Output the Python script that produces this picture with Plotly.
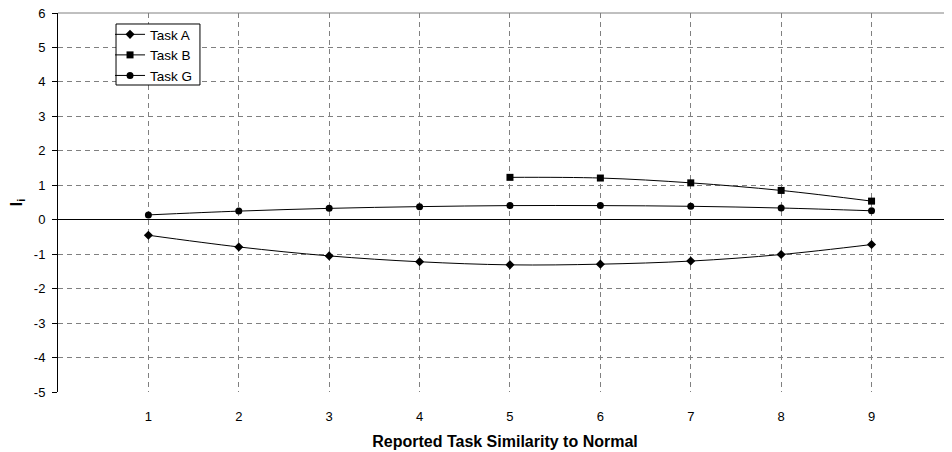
import plotly.graph_objects as go

x_all = [1, 2, 3, 4, 5, 6, 7, 8, 9]
task_a = [-0.45, -0.79, -1.05, -1.22, -1.31, -1.29, -1.20, -1.01, -0.72]
x_b = [5, 6, 7, 8, 9]
task_b = [1.23, 1.21, 1.07, 0.85, 0.54]
task_g = [0.14, 0.25, 0.33, 0.38, 0.41, 0.41, 0.39, 0.34, 0.26]
x_ticks = [1, 2, 3, 4, 5, 6, 7, 8, 9]
y_ticks = [-5, -4, -3, -2, -1, 0, 1, 2, 3, 4, 5, 6]

fig = go.Figure()
line = dict(color="black", width=1, shape="spline")
fig.add_trace(go.Scatter(x=x_all, y=task_a, name="Task A", mode="lines+markers",
                         line=line, marker=dict(symbol="diamond", size=7, color="black")))
fig.add_trace(go.Scatter(x=x_b, y=task_b, name="Task B", mode="lines+markers",
                         line=line, marker=dict(symbol="square", size=7, color="black")))
fig.add_trace(go.Scatter(x=x_all, y=task_g, name="Task G", mode="lines+markers",
                         line=line, marker=dict(symbol="circle", size=7, color="black")))

grid = dict(showgrid=True, gridcolor="#808080", gridwidth=1, griddash="5px,4px")
fig.update_layout(
    width=944, height=444,
    margin=dict(l=50, r=0, t=5, b=60),
    paper_bgcolor="white", plot_bgcolor="white",
    font=dict(family="Liberation Sans, Arial, sans-serif", size=13, color="black"),
    xaxis=dict(range=[0, 9.89], tickvals=x_ticks, ticktext=[str(v) for v in x_ticks],
               automargin=False,
               showline=False, zeroline=True, zerolinecolor="black", zerolinewidth=1,
               ticks="", ticklabelstandoff=15, tickfont=dict(size=13),
               title=dict(text="<b>Reported Task Similarity to Normal</b>",
                          font=dict(size=16), standoff=12),
               **grid),
    yaxis=dict(range=[-5, 6], tickvals=y_ticks, ticktext=[str(v) for v in y_ticks],
               automargin=False, ticklabeloverflow="allow",
               showline=True, linecolor="black", linewidth=1,
               zeroline=True, zerolinecolor="black", zerolinewidth=1,
               ticks="outside", ticklen=5, tickcolor="black", tickfont=dict(size=13),
               ticklabelstandoff=4,
               title=dict(text="<b>I<sub>i</sub></b>", font=dict(size=16), standoff=8),
               **grid),
    legend=dict(x=0.0582, y=0.984, xanchor="left", yanchor="top",
                bgcolor="rgba(0,0,0,0)", borderwidth=0,
                font=dict(size=13.5), tracegroupgap=0, itemwidth=30),
    showlegend=True,
)
fig.add_shape(type="line", xref="paper", yref="paper", x0=0, x1=1, y0=1, y1=1,
              line=dict(color="#808080", width=1))
fig.add_shape(type="rect", xref="paper", yref="paper", x0=0.0649, x1=0.1588,
              y0=0.810, y1=0.971, layer="above",
              fillcolor="white", line=dict(color="black", width=1))
fig.write_html("out.html")
